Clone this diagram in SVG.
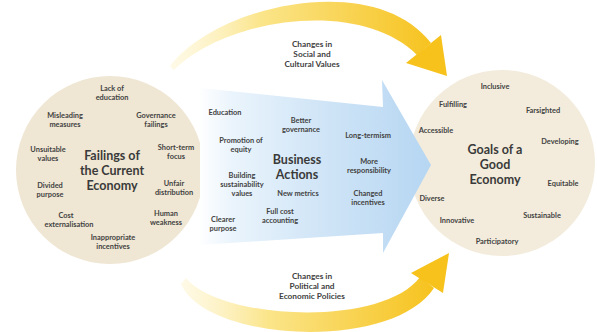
<svg xmlns="http://www.w3.org/2000/svg" width="597" height="332" viewBox="0 0 597 332">
  <style>
    text { font-family: Lato, "Open Sans", "Liberation Sans", sans-serif; font-weight: 700; fill: #424242; text-anchor: middle; }
    .lbl { font-size: 7.4px; }
    .ttl { font-size: 12.5px; fill: #3a3a3a; }
    .chg { font-size: 8.3px; }
    .circ-l { fill: #efe6d3; }
    .circ-r { fill: #f3ecdc; }
  </style>
  <defs>
    <linearGradient id="blueFade" gradientUnits="userSpaceOnUse" x1="198" y1="0" x2="430" y2="0">
      <stop offset="0" stop-color="#ffffff"/>
      <stop offset="0.15" stop-color="#eaf4fc"/>
      <stop offset="0.5" stop-color="#d2e6f7"/>
      <stop offset="1" stop-color="#b6d6f2"/>
    </linearGradient>
    <linearGradient id="yellowTop" gradientUnits="userSpaceOnUse" x1="168" y1="0" x2="435" y2="0">
      <stop offset="0" stop-color="#fdf3c8" stop-opacity="0.4"/>
      <stop offset="0.35" stop-color="#fbe58a"/>
      <stop offset="1" stop-color="#f6c21d"/>
    </linearGradient>
    <linearGradient id="yellowBottom" gradientUnits="userSpaceOnUse" x1="178" y1="0" x2="435" y2="0">
      <stop offset="0" stop-color="#fdf3c8" stop-opacity="0.4"/>
      <stop offset="0.35" stop-color="#fbe58a"/>
      <stop offset="1" stop-color="#f6c21d"/>
    </linearGradient>
  </defs>

  <rect width="597" height="332" fill="#ffffff"/>

  <!-- Left node: failings of the current economy -->
  <g id="failings">
    <circle class="circ-l" cx="110" cy="170" r="94"/>
    <text class="lbl" x="112" y="91">Lack of</text>
    <text class="lbl" x="112" y="100">education</text>
    <text class="lbl" x="65" y="118">Misleading</text>
    <text class="lbl" x="65" y="127">measures</text>
    <text class="lbl" x="156" y="118">Governance</text>
    <text class="lbl" x="156" y="127">failings</text>
    <text class="lbl" x="48" y="152">Unsuitable</text>
    <text class="lbl" x="48" y="161">values</text>
    <text class="lbl" x="176" y="150">Short-term</text>
    <text class="lbl" x="176" y="159">focus</text>
    <text class="ttl" x="112" y="160">Failings of</text>
    <text class="ttl" x="112" y="175">the Current</text>
    <text class="ttl" x="112" y="190">Economy</text>
    <text class="lbl" x="50" y="188">Divided</text>
    <text class="lbl" x="50" y="197">purpose</text>
    <text class="lbl" x="174" y="186">Unfair</text>
    <text class="lbl" x="174" y="195">distribution</text>
    <text class="lbl" x="66" y="218">Cost</text>
    <text class="lbl" x="69" y="227">externalisation</text>
    <text class="lbl" x="166" y="216">Human</text>
    <text class="lbl" x="166" y="225">weakness</text>
    <text class="lbl" x="113" y="240">Inappropriate</text>
    <text class="lbl" x="113" y="249">incentives</text>
  </g>

  <!-- Right node: goals of a good economy -->
  <g id="goals">
    <circle class="circ-r" cx="502" cy="163" r="93"/>
    <text class="lbl" x="495" y="89">Inclusive</text>
    <text class="lbl" x="453" y="107">Fulfilling</text>
    <text class="lbl" x="543" y="113">Farsighted</text>
    <text class="lbl" x="436" y="133">Accessible</text>
    <text class="lbl" x="560" y="144">Developing</text>
    <text class="ttl" x="495" y="154">Goals of a</text>
    <text class="ttl" x="495" y="169">Good</text>
    <text class="ttl" x="495" y="184">Economy</text>
    <text class="lbl" x="563" y="186">Equitable</text>
    <text class="lbl" x="432" y="201">Diverse</text>
    <text class="lbl" x="542" y="218">Sustainable</text>
    <text class="lbl" x="457" y="223">Innovative</text>
    <text class="lbl" x="497" y="244">Participatory</text>
  </g>

  <!-- Centre node: business actions, drawn as a broad arrow -->
  <g id="business-actions">
    <polygon points="200,88 383,107 382,80 431,165 383,253 383,233 200,245" fill="url(#blueFade)"/>
    <text class="lbl" x="225" y="115">Education</text>
    <text class="lbl" x="301" y="123">Better</text>
    <text class="lbl" x="301" y="132">governance</text>
    <text class="lbl" x="368" y="138">Long-termism</text>
    <text class="lbl" x="241" y="143">Promotion of</text>
    <text class="lbl" x="241" y="152">equity</text>
    <text class="ttl" x="297" y="164">Business</text>
    <text class="ttl" x="297" y="179">Actions</text>
    <text class="lbl" x="369" y="164">More</text>
    <text class="lbl" x="369" y="173">responsibility</text>
    <text class="lbl" x="242" y="178">Building</text>
    <text class="lbl" x="242" y="187">sustainability</text>
    <text class="lbl" x="242" y="196">values</text>
    <text class="lbl" x="298" y="196">New metrics</text>
    <text class="lbl" x="368" y="196">Changed</text>
    <text class="lbl" x="368" y="205">incentives</text>
    <text class="lbl" x="280" y="214">Full cost</text>
    <text class="lbl" x="280" y="223">accounting</text>
    <text class="lbl" x="223" y="222">Clearer</text>
    <text class="lbl" x="223" y="231">purpose</text>
  </g>

  <!-- Connectors: curved yellow arrows from the failings to the goals -->
  <g id="connectors">
    <path d="M170,66 C218,4 375,-30 431,43 L417,55 C360,-2 226,18 174,70 Z" fill="url(#yellowTop)"/>
    <polygon points="406,63 441,35 447,76" fill="#f6c21b"/>
    <text class="chg" x="312" y="47">Changes in</text>
    <text class="chg" x="312" y="57">Social and</text>
    <text class="chg" x="312" y="67">Cultural Values</text>

    <path d="M186,278 C220,320 382,328 420,277 L434,288 C392,352 206,342 181,284 Z" fill="url(#yellowBottom)"/>
    <polygon points="411,273 443,293 449,253" fill="#f6c21b"/>
    <text class="chg" x="312" y="279">Changes in</text>
    <text class="chg" x="312" y="289">Political and</text>
    <text class="chg" x="312" y="299">Economic Policies</text>
  </g>
</svg>
